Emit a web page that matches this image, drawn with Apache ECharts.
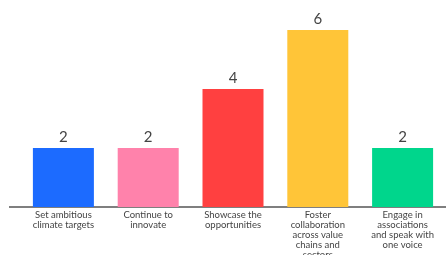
<!DOCTYPE html>
<html>
<head>
<meta charset="utf-8">
<script src="https://cdn.jsdelivr.net/npm/echarts@6/dist/echarts.min.js"></script>
<style>
    html, body { margin: 0; padding: 0; background: #fff; }
    #chart { width: 446px; height: 255px; }
</style>
</head>
<body>
<div id="chart"></div>
<script>
    // data
    const categories = [
        'Set ambitious\nclimate targets',
        'Continue to\ninnovate',
        'Showcase the\nopportunities',
        'Foster\ncollaboration\nacross value\nchains and\nsectors',
        'Engage in\nassociations\nand speak with\none voice'
    ];
    const values = [2, 2, 4, 6, 2];
    const barColors = ['#1c6bff', '#ff82ab', '#ff4040', '#ffc538', '#00d68c'];

    let myChart = echarts.init(document.getElementById('chart'));
    let option = {
        animation: false,
        grid: { left: 21, right: 1, top: 30, bottom: 48, outerBoundsMode: 'none', containLabel: false },
        xAxis: {
            type: 'category',
            data: categories,
            axisLine: { show: false },
            axisTick: { show: false },
            axisLabel: {
                interval: 0,
                margin: 3,
                fontFamily: 'Lato',
                fontSize: 9.5,
                lineHeight: 10,
                color: '#444'
            }
        },
        yAxis: {
            type: 'value',
            min: 0,
            max: 6,
            show: false
        },
        graphic: [{
            type: 'line',
            shape: { x1: 9, y1: 207, x2: 446, y2: 207 },
            style: { stroke: '#555', lineWidth: 1.5 }
        }],
        series: [{
            type: 'bar',
            barWidth: 61,
            data: values.map((v, i) => ({ value: v, itemStyle: { color: barColors[i] } })),
            label: {
                show: true,
                position: 'top',
                distance: 3,
                fontFamily: 'Lato',
                fontSize: 15,
                color: '#444'
            }
        }]
    };
    myChart.setOption(option);
</script>
</body>
</html>
